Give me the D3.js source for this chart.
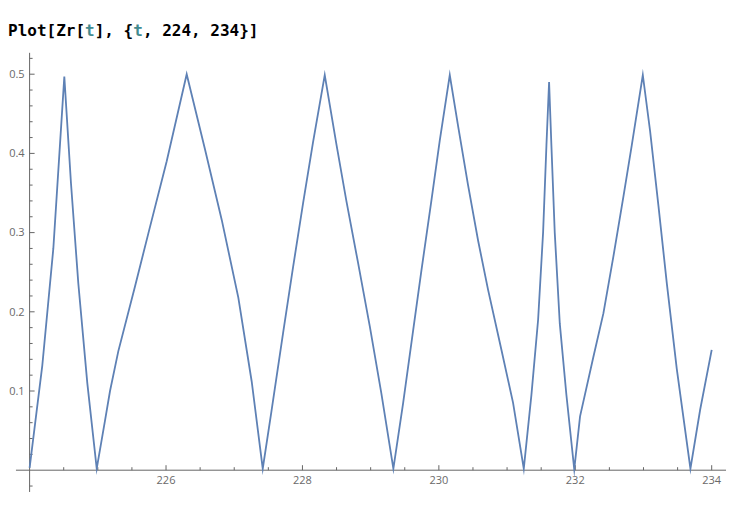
<!DOCTYPE html>
<html>
<head>
<meta charset="utf-8">
<script src="https://cdn.jsdelivr.net/npm/d3@7"></script>
<style>
  html, body { margin: 0; padding: 0; background: #fff; }
  svg { display: block; }
</style>
</head>
<body>
<svg id="chart" width="745" height="506"></svg>
<script>
// ---- data ----
const titleParts = [
  {text: "Plot[Zr[", cls: "plain"},
  {text: "t", cls: "var"},
  {text: "], {", cls: "plain"},
  {text: "t", cls: "var"},
  {text: ", 224, 234}]", cls: "plain"}
];
const tValues = [
  224.0, 224.186, 224.348, 224.509, 224.607, 224.714, 224.846, 224.984,
  225.106, 225.179, 225.30, 225.545, 225.741, 226.010, 226.303,
  226.572, 226.817, 227.06, 227.256, 227.418,
  227.545, 227.716, 227.862, 228.009, 228.155, 228.327,
  228.497, 228.644, 228.815, 228.987, 229.157, 229.333,
  229.475, 229.622, 229.744, 229.890, 230.013, 230.160,
  230.281, 230.428, 230.575, 230.721, 230.917, 231.088, 231.245,
  231.357, 231.455, 231.528, 231.577, 231.616,
  231.650, 231.699, 231.773, 231.870, 231.985,
  232.07, 232.265, 232.412, 232.559, 232.705, 232.828, 232.99,
  233.097, 233.219, 233.342, 233.488, 233.688,
  233.83, 234.0
];
const zrValues = [
  0.003, 0.132, 0.280, 0.497, 0.362, 0.236, 0.110, 0.002,
  0.063, 0.100, 0.150, 0.232, 0.299, 0.390, 0.500,
  0.405, 0.316, 0.218, 0.112, 0.002,
  0.074, 0.173, 0.256, 0.337, 0.414, 0.499,
  0.412, 0.340, 0.262, 0.182, 0.097, 0.002,
  0.084, 0.176, 0.252, 0.340, 0.416, 0.499,
  0.435, 0.360, 0.290, 0.228, 0.152, 0.085, 0.002,
  0.095, 0.190, 0.300, 0.410, 0.490,
  0.410, 0.300, 0.185, 0.095, 0.001,
  0.068, 0.143, 0.198, 0.270, 0.345, 0.410, 0.499,
  0.428, 0.334, 0.236, 0.128, 0.002,
  0.076, 0.152
];
const xMajorTicks = [226, 228, 230, 232, 234];
const xMinorTicks = [224.5, 225, 225.5, 226.5, 227, 227.5, 228.5, 229, 229.5,
                     230.5, 231, 231.5, 232.5, 233, 233.5];
const yMajorTicks = [0.1, 0.2, 0.3, 0.4, 0.5];
const yMinorTicks = [-0.02, 0.02, 0.04, 0.06, 0.08, 0.12, 0.14, 0.16, 0.18,
                     0.22, 0.24, 0.26, 0.28, 0.32, 0.34, 0.36, 0.38,
                     0.42, 0.44, 0.46, 0.48, 0.52];
const xAxisExtent = [223.8, 234.21];
const yAxisExtent = [-0.0275, 0.527];

// ---- drawing ----
const svg = d3.select("#chart");
const x = d3.scaleLinear().domain([224, 234]).range([29.6, 711.7]);
const y = d3.scaleLinear().domain([0, 0.5]).range([470.2, 74.2]);

const axisColor = "#666666";
const labelColor = "#6a6a6a";
const lineColor = "#5E81B5";

// title
const title = svg.append("text")
  .attr("x", 8).attr("y", 36)
  .attr("font-family", "'DejaVu Sans Mono', 'Liberation Mono', monospace")
  .attr("font-size", 16)
  .attr("font-weight", "bold")
  .attr("fill", "#000");
title.selectAll("tspan").data(titleParts).join("tspan")
  .attr("fill", d => d.cls === "var" ? "#438a8f" : "#000")
  .text(d => d.text);

// x axis
const gx = svg.append("g").attr("transform", `translate(0,${y(0)})`);
gx.append("line")
  .attr("x1", x(xAxisExtent[0])).attr("x2", x(xAxisExtent[1]))
  .attr("stroke", axisColor).attr("stroke-width", 1);
gx.selectAll("line.minor").data(xMinorTicks).join("line").attr("class", "minor")
  .attr("x1", d => x(d)).attr("x2", d => x(d))
  .attr("y1", 0).attr("y2", -3)
  .attr("stroke", axisColor).attr("stroke-width", 1);
gx.selectAll("line.major").data(xMajorTicks).join("line").attr("class", "major")
  .attr("x1", d => x(d)).attr("x2", d => x(d))
  .attr("y1", 0).attr("y2", -5)
  .attr("stroke", axisColor).attr("stroke-width", 1);
gx.selectAll("text").data(xMajorTicks).join("text")
  .attr("x", d => x(d)).attr("y", 13.5)
  .attr("text-anchor", "middle")
  .attr("font-family", "'Open Sans', 'Noto Sans', sans-serif")
  .attr("font-size", 11)
  .attr("fill", labelColor)
  .text(d => d3.format("d")(d));

// y axis
const gy = svg.append("g").attr("transform", `translate(${x(224)},0)`);
gy.append("line")
  .attr("y1", y(yAxisExtent[0])).attr("y2", y(yAxisExtent[1]))
  .attr("stroke", axisColor).attr("stroke-width", 1);
gy.selectAll("line.minor").data(yMinorTicks).join("line").attr("class", "minor")
  .attr("y1", d => y(d)).attr("y2", d => y(d))
  .attr("x1", 0).attr("x2", 3)
  .attr("stroke", axisColor).attr("stroke-width", 1);
gy.selectAll("line.major").data(yMajorTicks).join("line").attr("class", "major")
  .attr("y1", d => y(d)).attr("y2", d => y(d))
  .attr("x1", 0).attr("x2", 5)
  .attr("stroke", axisColor).attr("stroke-width", 1);
gy.selectAll("text").data(yMajorTicks).join("text")
  .attr("x", -5).attr("y", d => y(d))
  .attr("dy", "0.35em")
  .attr("text-anchor", "end")
  .attr("font-family", "'Open Sans', 'Noto Sans', sans-serif")
  .attr("font-size", 11)
  .attr("fill", labelColor)
  .text(d => d3.format(".1f")(d));

// the curve
const pts = tValues.map((t, i) => [t, zrValues[i]]);
const line = d3.line().x(d => x(d[0])).y(d => y(d[1]));
svg.append("path")
  .datum(pts)
  .attr("d", line)
  .attr("fill", "none")
  .attr("stroke", lineColor)
  .attr("stroke-width", 1.8)
  .attr("stroke-linejoin", "miter")
  .attr("stroke-miterlimit", 10);
</script>
</body>
</html>
